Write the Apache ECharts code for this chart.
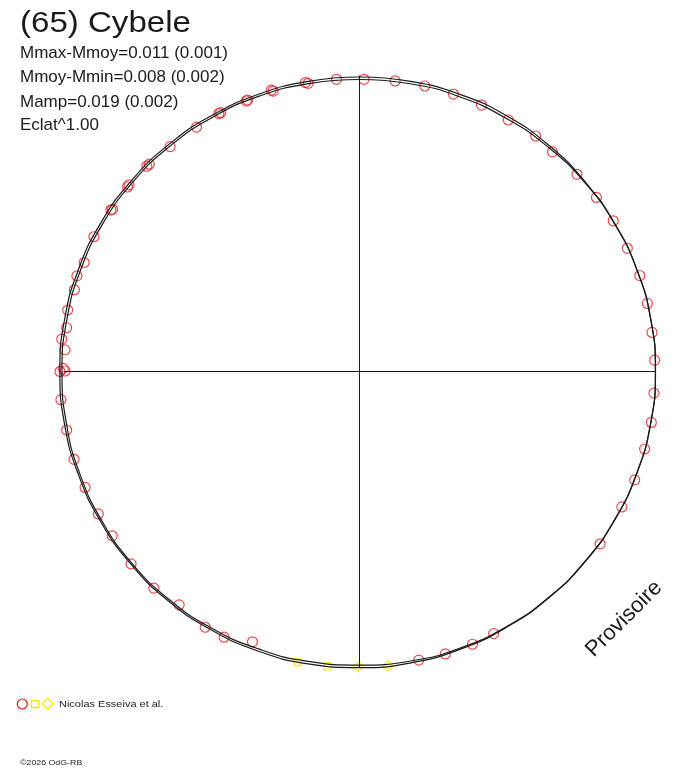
<!DOCTYPE html>
<html>
<head>
<meta charset="utf-8">
<script src="https://cdn.jsdelivr.net/npm/echarts@6/dist/echarts.min.js"></script>
<style>
html,body{margin:0;padding:0;background:#fff;}
#chart{width:688px;height:768px;}
</style>
</head>
<body>
<div id="chart"></div>
<script>
// Rotational phase in degrees (clockwise from top), relative brightness (Eclat^1.00, mean = 1)
const CURVE_ANGLES = [0,10,20,30,40,50,60,70,80,90,100,110,120,130,140,150,160,170,
                      180,190,200,210,220,230,240,250,260,270,280,290,300,310,320,330,340,350];
const CURVE_A = [0.9949,0.9953,0.9959,0.9966,0.9966,0.9959,0.9966,0.9986,1.0000,1.0000,
                 0.9993,0.9983,0.9976,0.9970,0.9966,0.9968,0.9983,0.9997,1.0007,1.0027,
                 1.0047,1.0068,1.0088,1.0101,1.0108,1.0115,1.0122,1.0122,1.0118,1.0101,
                 1.0078,1.0047,1.0017,0.9986,0.9966,0.9953];
const CURVE_B = [0.9865,0.9872,0.9878,0.9885,0.9905,0.9932,0.9959,0.9980,0.9993,0.9997,
                 0.9990,0.9976,0.9966,0.9960,0.9956,0.9950,0.9943,0.9932,0.9922,0.9946,
                 0.9973,1.0007,1.0034,1.0054,1.0061,1.0061,1.0057,1.0051,1.0041,1.0027,
                 1.0007,0.9980,0.9949,0.9922,0.9899,0.9878];

// Observations, session 1 (red circles)
const RED_PHASE = [355.5,349.9,342.9,337.6,331.8,326.3,319.9,314.6,309.0,303.0,296.9,291.6,
                   288.7,286.0,281.9,278.5,276.2,274.2,270.6,
                   0.9,7.0,12.9,18.7,24.6,30.6,36.8,41.3,47.8,53.7,59.3,65.3,71.1,76.7,82.4,87.8,
                   270.0,270.1,264.6,258.7,252.9,247.1,241.4,236.4,229.9,223.5,217.7,211.1,207.0,201.6,
                   168.4,163.1,157.5,152.9,125.6,117.3,111.5,105.2,99.9,94.2,
                   349.4,342.6,337.3,331.4,314.0,308.5,303.3];
const RED_FLUX  = [0.9902,0.9889,0.9912,0.9919,0.9922,0.9922,0.9932,0.9973,1.0017,1.0014,1.0061,1.0003,
                   1.0078,1.0020,1.0074,1.0003,1.0118,0.9976,1.0007,
                   0.9872,0.9889,0.9895,0.9895,0.9899,0.9872,0.9936,0.9878,0.9919,0.9932,0.9970,0.9959,1.0010,0.9993,0.9970,0.9980,
                   1.0118,0.9949,1.0132,1.0088,1.0091,1.0064,1.0051,1.0030,1.0088,1.0091,0.9963,1.0091,1.0074,0.9821,
                   0.9953,0.9973,0.9973,0.9949,1.0000,0.9976,0.9993,0.9983,1.0007,0.9976,
                   0.9932,0.9963,0.9905,0.9926,0.9986,1.0014,0.9980];
// Session 2 (yellow squares)
const SQ_PHASE = [192.0,186.2];
const SQ_FLUX  = [1.0034,1.0017];
// Session 3 (yellow diamonds)
const DIA_PHASE = [180.2,174.5];
const DIA_FLUX  = [0.9973,0.9997];

const TITLE = '(65) Cybele';
const INFO_LINES = ['Mmax-Mmoy=0.011 (0.001)','Mmoy-Mmin=0.008 (0.002)','Mamp=0.019 (0.002)','Eclat^1.00'];
const AUTHOR = 'Nicolas Esseiva et al.';
const FOOTER = '\u00A92026 OdG-RB';
const STAMP = 'Provisoire';

const R_MAX = 1.05;
const PX_PER_UNIT = 296;

function loop(vals){
  const d = CURVE_ANGLES.map((a,i)=>[vals[i], a]);
  d.push([vals[0], 360]);
  return d;
}
function pts(ph, fl){ return ph.map((p,i)=>[fl[i], p]); }

const RED = '#e41e22';
const YEL = '#ffe600';
const INK = '#1a1a1a';

const chart = echarts.init(document.getElementById('chart'), null, {renderer:'canvas'});

const graphics = [];
graphics.push({type:'text', x:20, y:9.5, scaleX:1.14,
  style:{text:TITLE, font:'29px "Liberation Sans", Arial, sans-serif', fill:INK, textAlign:'left', textVerticalAlign:'top'}});
const infoY = [44.5, 69, 93.5, 117];
INFO_LINES.forEach((t,i)=>{
  graphics.push({type:'text', x:20, y:infoY[i],
    style:{text:t, font:'17px "Liberation Sans", Arial, sans-serif', fill:INK, textAlign:'left', textVerticalAlign:'top'}});
});
graphics.push({type:'text', x:624, y:619, rotation:Math.PI/4,
  style:{text:STAMP, font:'22px "Liberation Sans", Arial, sans-serif', fill:INK, textAlign:'center', textVerticalAlign:'middle'}});
// legend symbols
graphics.push({type:'circle', shape:{cx:22.3, cy:704, r:5}, style:{fill:'none', stroke:RED, lineWidth:1.2}});
graphics.push({type:'rect', shape:{x:31.5, y:700.5, width:7, height:7}, style:{fill:'none', stroke:YEL, lineWidth:1.3}});
graphics.push({type:'polygon', shape:{points:[[47.8,698.3],[53.3,703.8],[47.8,709.3],[42.3,703.8]]}, style:{fill:'none', stroke:YEL, lineWidth:1.3}});
graphics.push({type:'text', x:59, y:704.5, scaleX:1.22,
  style:{text:AUTHOR, font:'9px "Liberation Sans", Arial, sans-serif', fill:INK, textAlign:'left', textVerticalAlign:'middle'}});
graphics.push({type:'text', x:20, y:763, scaleX:1.1,
  style:{text:FOOTER, font:'8px "Liberation Sans", Arial, sans-serif', fill:INK, textAlign:'left', textVerticalAlign:'middle'}});

const option = {
  animation:false,
  backgroundColor:'#ffffff',
  polar:{center:[359.5, 371.5], radius: PX_PER_UNIT * R_MAX},
  angleAxis:{type:'value', min:0, max:360, startAngle:90, clockwise:true,
    axisLine:{show:false}, axisTick:{show:false}, axisLabel:{show:false}, splitLine:{show:false}},
  radiusAxis:{type:'value', min:0, max:R_MAX,
    axisLine:{show:false}, axisTick:{show:false}, axisLabel:{show:false}, splitLine:{show:false}},
  series:[
    {type:'line', coordinateSystem:'polar', data:[[1.0,270],[0,0],[1.0,90]], symbol:'none', silent:true,
      lineStyle:{color:INK, width:1}},
    {type:'line', coordinateSystem:'polar', data:[[1.0,0],[0,0],[1.0,180]], symbol:'none', silent:true,
      lineStyle:{color:INK, width:1}},
    {type:'line', coordinateSystem:'polar', data:loop(CURVE_A), smooth:true, symbol:'none', silent:true,
      lineStyle:{color:INK, width:1.2}},
    {type:'line', coordinateSystem:'polar', data:loop(CURVE_B), smooth:true, symbol:'none', silent:true,
      lineStyle:{color:INK, width:1.2}},
    {type:'scatter', coordinateSystem:'polar', data:pts(RED_PHASE, RED_FLUX), symbol:'circle', symbolSize:10,
      itemStyle:{color:'rgba(0,0,0,0)', borderColor:RED, borderWidth:1.2}},
    {type:'scatter', coordinateSystem:'polar', data:pts(SQ_PHASE, SQ_FLUX), symbol:'rect', symbolSize:7,
      itemStyle:{color:'rgba(0,0,0,0)', borderColor:YEL, borderWidth:1.4}},
    {type:'scatter', coordinateSystem:'polar', data:pts(DIA_PHASE, DIA_FLUX), symbol:'diamond', symbolSize:10,
      itemStyle:{color:'rgba(0,0,0,0)', borderColor:YEL, borderWidth:1.4}}
  ],
  graphic: graphics
};
chart.setOption(option);
</script>
</body>
</html>
